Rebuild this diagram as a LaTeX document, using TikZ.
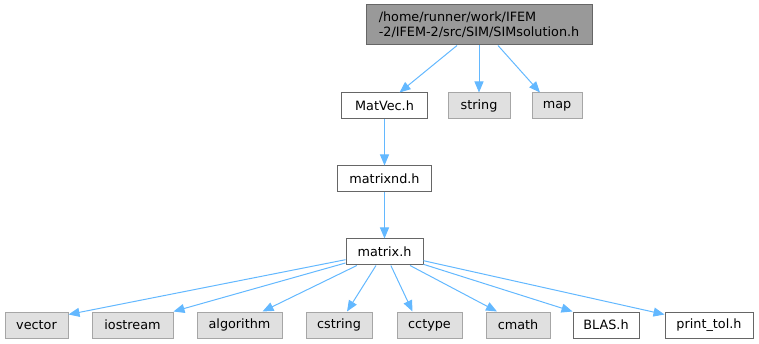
\documentclass[tikz,border=0pt]{standalone}
\usepackage{fontspec}
\setmainfont{DejaVu Sans}
\usetikzlibrary{arrows.meta,calc}
\definecolor{edgecol}{HTML}{63B8FF}
\tikzset{
  box/.style={draw=black!60, line width=1pt, fill=white, inner sep=0pt, minimum height=26pt, font=\fontsize{12.8}{15}\selectfont},
  ext/.style={box, draw=black!35, fill=black!12},
  root/.style={box, draw=black!60, fill=black!40},
  edge/.style={draw=edgecol, line width=1pt, -{Triangle[length=11pt,width=9pt]}}
}
\begin{document}
\begin{tikzpicture}[x=1pt,y=-1pt]
\useasboundingbox (0,0) rectangle (759,344);
\node[root, minimum width=226pt, minimum height=40pt, align=left] (top) at (479,25) {/home/runner/work/IFEM\\-2/IFEM-2/src/SIM/SIMsolution.h};
\node[box, minimum width=86pt] (matvec) at (384.5,106) {MatVec.h};
\node[ext, minimum width=62pt] (string) at (479,106) {string};
\node[ext, minimum width=50pt] (map) at (557,106) {map};
\node[box, minimum width=94pt] (matrixnd) at (384.5,179) {matrixnd.h};
\node[box, minimum width=77pt] (matrix) at (384.5,252) {matrix.h};
\node[ext, minimum width=63pt] (vector) at (36.5,325) {vector};
\node[ext, minimum width=81pt] (iostream) at (132.5,325) {iostream};
\node[ext, minimum width=85pt] (algorithm) at (239.5,325) {algorithm};
\node[ext, minimum width=66pt] (cstring) at (339,325) {cstring};
\node[ext, minimum width=65pt] (cctype) at (429.5,325) {cctype};
\node[ext, minimum width=64pt] (cmath) at (518,325) {cmath};
\node[box, minimum width=66pt] (blas) at (606,325) {BLAS.h};
\node[box, minimum width=88pt] (printtol) at (709,325) {print\_tol.h};

\draw[edge] ($(top.south)+(-22,0)$) -- ($(matvec.north)+(15,0)$);
\draw[edge] (top.south) -- (string.north);
\draw[edge] ($(top.south)+(19,0)$) -- ($(map.north)+(-17,0)$);
\draw[edge] (matvec) -- (matrixnd);
\draw[edge] (matrixnd) -- (matrix);
\draw[edge] (matrix) -- ($(vector.north east)+(0,3)$);
\draw[edge] (matrix) -- ($(iostream.north east)+(0,0)$);
\draw[edge] (matrix) -- ($(algorithm.north)+(23,0)$);
\draw[edge] (matrix) -- ($(cstring.north)+(8,0)$);
\draw[edge] (matrix) -- ($(cctype.north)+(-17,0)$);
\draw[edge] (matrix) -- ($(cmath.north)+(-21,0)$);
\draw[edge] (matrix) -- ($(blas.north west)+(0,0)$);
\draw[edge] (matrix) -- ($(printtol.north west)+(0,3)$);
\end{tikzpicture}
\end{document}
